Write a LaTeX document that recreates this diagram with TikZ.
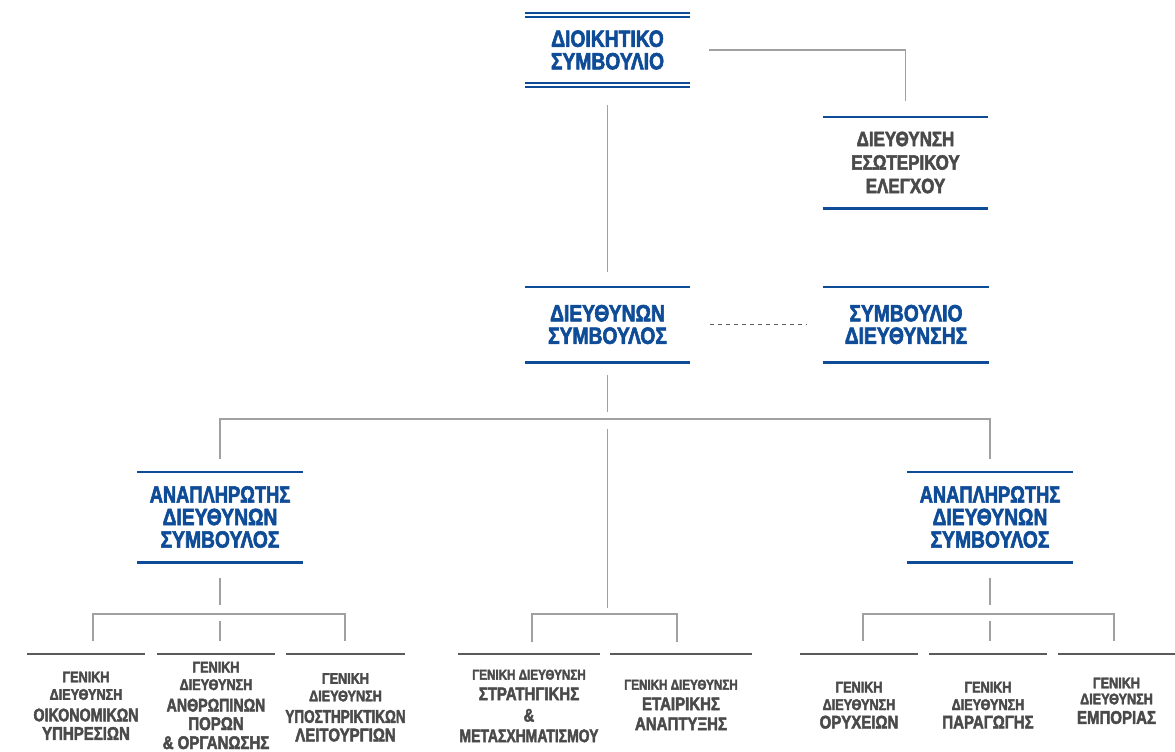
\documentclass[tikz,border=0pt]{standalone}
\usepackage{fontspec}
\setmainfont{Liberation Sans}[BoldFont={Liberation Sans Bold}, FakeStretch=0.82, BoldFeatures={FakeBold=2.5}]
\usetikzlibrary{calc}
\definecolor{cblue}{HTML}{0F4C97}
\definecolor{ctext}{HTML}{4A4A4A}
\definecolor{cline}{HTML}{5A5A5A}
\definecolor{cconn}{HTML}{A0A0A0}
\newcommand\sm[1]{{\fontsize{15.4}{17}\selectfont #1}}
\newcommand\smb[1]{{\fontsize{14.2}{17}\selectfont #1}}
\newcommand\sq[2]{\scalebox{#1}[1]{#2}}
\begin{document}
\begin{tikzpicture}[x=1pt,y=-1pt,
  bluebox/.style={minimum width=165pt, minimum height=#1, inner sep=0pt, align=center,
    text=cblue, font=\fontsize{23.5}{22.5}\selectfont\bfseries},
  graybox/.style={minimum width=165pt, minimum height=#1, inner sep=0pt, align=center,
    text=ctext, font=\fontsize{20.7}{23.5}\selectfont\bfseries},
  gtext/.style={anchor=north, inner sep=0pt, align=center, text=ctext,
    font=\fontsize{18.3}{18.5}\selectfont\bfseries},
  bline/.style={draw=cblue, line width=2.6pt},
  bline2/.style={draw=cblue, line width=2pt},
  gline/.style={draw=cline, line width=2.6pt},
  conn/.style={draw=cconn, line width=1.3pt},
  dconn/.style={draw=cline, line width=1pt, dash pattern=on 4pt off 4pt}]
\useasboundingbox (0,0) rectangle (1175,752);
% main boxes
\node[bluebox=70pt] (dk) at (607.5,50) {ΔΙΟΙΚΗΤΙΚΟ\\ΣΥΜΒΟΥΛΙΟ};
\node[graybox=91pt] (esw) at (905.5,162.5) {ΔΙΕΥΘΥΝΣΗ\\ΕΣΩΤΕΡΙΚΟΥ\\ΕΛΕΓΧΟΥ};
\node[bluebox=75pt] (ceo) at (607.5,324.5) {ΔΙΕΥΘΥΝΩΝ\\ΣΥΜΒΟΥΛΟΣ};
\node[bluebox=75pt] (sdb) at (906,324.5) {ΣΥΜΒΟΥΛΙΟ\\ΔΙΕΥΘΥΝΣΗΣ};
\node[bluebox=90pt] (dep1) at (220,517) {\sq{0.95}{ΑΝΑΠΛΗΡΩΤΗΣ}\\ΔΙΕΥΘΥΝΩΝ\\ΣΥΜΒΟΥΛΟΣ};
\node[bluebox=90pt] (dep2) at (990,517) {\sq{0.95}{ΑΝΑΠΛΗΡΩΤΗΣ}\\ΔΙΕΥΘΥΝΩΝ\\ΣΥΜΒΟΥΛΟΣ};
% box rules
\draw[bline2] ([yshift=2pt]dk.north west) -- ([yshift=2pt]dk.north east);
\draw[bline2] ([yshift=-2pt]dk.north west) -- ([yshift=-2pt]dk.north east);
\draw[bline2] ([yshift=2pt]dk.south west) -- ([yshift=2pt]dk.south east);
\draw[bline2] ([yshift=-2pt]dk.south west) -- ([yshift=-2pt]dk.south east);
\foreach \n in {esw,ceo,sdb,dep1,dep2}{
  \draw[bline] (\n.north west) -- (\n.north east);
  \draw[bline] (\n.south west) -- (\n.south east);
}
% bottom boxes
\coordinate (gy) at (0,654);
\node[gtext] (g1) at (86,671.5) {\sm{ΓΕΝΙΚΗ}\\[-1pt]\sm{ΔΙΕΥΘΥΝΣΗ}\\[3pt]\sq{0.95}{ΟΙΚΟΝΟΜΙΚΩΝ}\\ΥΠΗΡΕΣΙΩΝ};
\node[gtext] (g2) at (216,661.7) {\sm{ΓΕΝΙΚΗ}\\[-1pt]\sm{ΔΙΕΥΘΥΝΣΗ}\\[3pt]\sq{0.95}{ΑΝΘΡΩΠΙΝΩΝ}\\ΠΟΡΩΝ\\[0.5pt]\&~ΟΡΓΑΝΩΣΗΣ};
\node[gtext] (g3) at (345.5,673) {\sm{ΓΕΝΙΚΗ}\\[-1pt]\sm{ΔΙΕΥΘΥΝΣΗ}\\[3pt]\sq{0.9}{ΥΠΟΣΤΗΡΙΚΤΙΚΩΝ}\\ΛΕΙΤΟΥΡΓΙΩΝ};
\node[gtext] (gA) at (529,669.5) {\smb{ΓΕΝΙΚΗ ΔΙΕΥΘΥΝΣΗ}\\[2pt]ΣΤΡΑΤΗΓΙΚΗΣ\\[3pt]\&\\[2pt]\sq{0.93}{ΜΕΤΑΣΧΗΜΑΤΙΣΜΟΥ}};
\node[gtext] (gB) at (681,679.5) {\smb{ΓΕΝΙΚΗ ΔΙΕΥΘΥΝΣΗ}\\[2pt]ΕΤΑΙΡΙΚΗΣ\\[1.5pt]ΑΝΑΠΤΥΞΗΣ};
\node[gtext] (r1) at (859,681.7) {\sm{ΓΕΝΙΚΗ}\\[-1pt]\sm{ΔΙΕΥΘΥΝΣΗ}\\[0pt]ΟΡΥΧΕΙΩΝ};
\node[gtext] (r2) at (988,681.7) {\sm{ΓΕΝΙΚΗ}\\[-1pt]\sm{ΔΙΕΥΘΥΝΣΗ}\\[0pt]ΠΑΡΑΓΩΓΗΣ};
\node[gtext] (r3) at (1116.5,677.5) {\sm{ΓΕΝΙΚΗ}\\[-2.5pt]\sm{ΔΙΕΥΘΥΝΣΗ}\\[1pt]ΕΜΠΟΡΙΑΣ};
\foreach \n/\w in {g1/59,g2/59,g3/59.5,gA/71,gB/71,r1/59,r2/59,r3/58.5}{
  \draw[gline] ($(\n.north |- gy)+(-\w,0)$) -- ($(\n.north |- gy)+(\w,0)$);
}
% connectors
\draw[conn, shorten <=19pt, shorten >=16pt] (dk.east) -| (esw.north);
\draw[conn, shorten <=20pt, shorten >=15pt] (dk.south) -- (ceo.north);
\draw[dconn, shorten <=20pt, shorten >=17pt] (ceo.east) -- (sdb.west);
\coordinate (bus) at (607.5,419);
\draw[conn, shorten <=13pt, shorten >=7pt] (ceo.south) -- (bus);
\draw[conn, shorten <=13pt, shorten >=13pt] (dep1.north) |- (bus) -| (dep2.north);
\coordinate (mbus) at (607.5,614);
\draw[conn, shorten <=10pt, shorten >=6pt] (bus) -- (mbus);
\draw[conn, shorten <=12pt, shorten >=12pt] ($(gA.north |- gy)+(3,0)$) |- (mbus) -| ($(gB.north |- gy)+(-4,0)$);
% left group
\coordinate (lbus) at (220,614);
\draw[conn, shorten <=16pt, shorten >=9pt] (dep1.south) -- (lbus);
\draw[conn, shorten <=13pt, shorten >=13pt] ($(g1.north |- gy)+(7,0)$) |- (lbus) -| ($(g3.north |- gy)+(-0.5,0)$);
\draw[conn, shorten <=7pt, shorten >=13pt] (lbus) -- ($(g2.north |- gy)+(4,0)$);
% right group
\coordinate (rbus) at (990,614);
\draw[conn, shorten <=16pt, shorten >=9pt] (dep2.south) -- (rbus);
\draw[conn, shorten <=13pt, shorten >=13pt] ($(r1.north |- gy)+(4,0)$) |- (rbus) -| ($(r3.north |- gy)+(-2.5,0)$);
\draw[conn, shorten <=7pt, shorten >=13pt] (rbus) -- ($(r2.north |- gy)+(2,0)$);
\end{tikzpicture}
\end{document}
